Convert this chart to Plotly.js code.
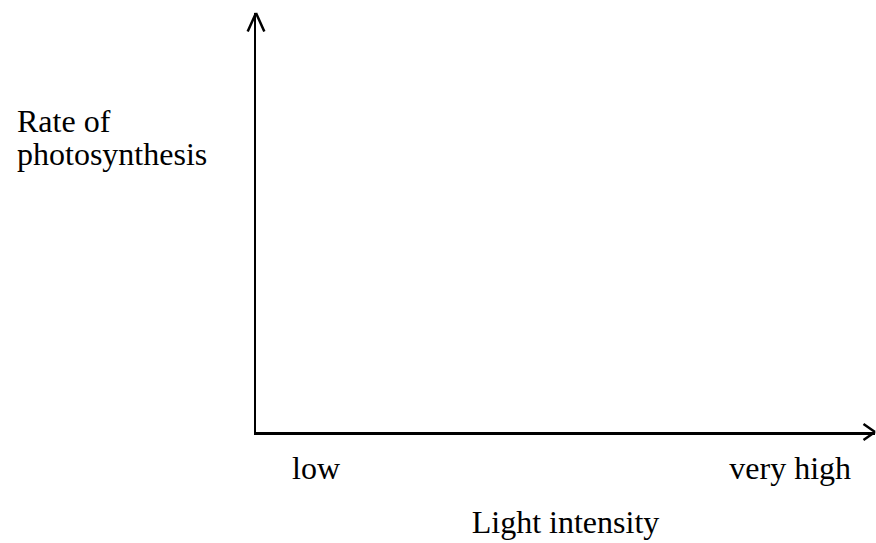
<!DOCTYPE html>
<html>
<head>
<meta charset="utf-8">
<script src="https://cdn.plot.ly/plotly-3.0.1.min.js"></script>
<style>html,body{margin:0;padding:0;background:#fff;}#chart{width:876px;height:543px;}</style>
</head>
<body>
<div id="chart"></div>
<script>
// Categories / tick labels
const xTickVals = [0.097, 0.863];
const xTickText = ["low", "very high"];
const xTitle = "Light intensity";
const yTitleLines = ["Rate of", "photosynthesis"];
const yTitlePos = [0.742, 0.664];

const FONT = "Liberation Serif, Times New Roman, serif";
const FS = 32;

const data = [{
  x: [], y: [], type: "scatter", mode: "lines", showlegend: false, hoverinfo: "skip"
}];

const annotations = yTitleLines.map((t, i) => ({
  text: t, xref: "paper", yref: "paper", x: -0.389, y: yTitlePos[i],
  xanchor: "left", yanchor: "middle", showarrow: false,
  font: {family: FONT, size: FS, color: "#000"}
}));

// open chevron arrow heads at the axis ends (two arms each, anchored on the axis end)
function arm(x, y, ax, ay) {
  return {
    text: "", xref: "x", yref: "y", x: x, y: y, ax: ax, ay: ay,
    showarrow: true, arrowhead: 0, arrowwidth: 2.5, arrowcolor: "#000", standoff: 0
  };
}
annotations.push(arm(1, 0, -13, -9));
annotations.push(arm(1, 0, -13, 9));
annotations.push(arm(0, 1, -9, 20));
annotations.push(arm(0, 1, 9, 20));

const layout = {
  width: 876, height: 543,
  margin: {l: 256, r: 1, t: 13, b: 111, pad: 0},
  paper_bgcolor: "#fff", plot_bgcolor: "#fff",
  showlegend: false,
  xaxis: {
    range: [0, 1], showgrid: false, zeroline: false,
    showline: true, linecolor: "#000", linewidth: 2.5,
    ticks: "", tickvals: xTickVals, ticktext: xTickText,
    ticklabelstandoff: 6,
    tickfont: {family: FONT, size: FS, color: "#000"},
    title: {text: xTitle, font: {family: FONT, size: FS, color: "#000"}, standoff: 26},
    fixedrange: true
  },
  yaxis: {
    range: [0, 1], showgrid: false, zeroline: false,
    showline: true, linecolor: "#000", linewidth: 2.5,
    ticks: "", showticklabels: false, fixedrange: true
  },
  annotations: annotations
};

Plotly.newPlot("chart", data, layout, {displayModeBar: false, staticPlot: true});
</script>
</body>
</html>
